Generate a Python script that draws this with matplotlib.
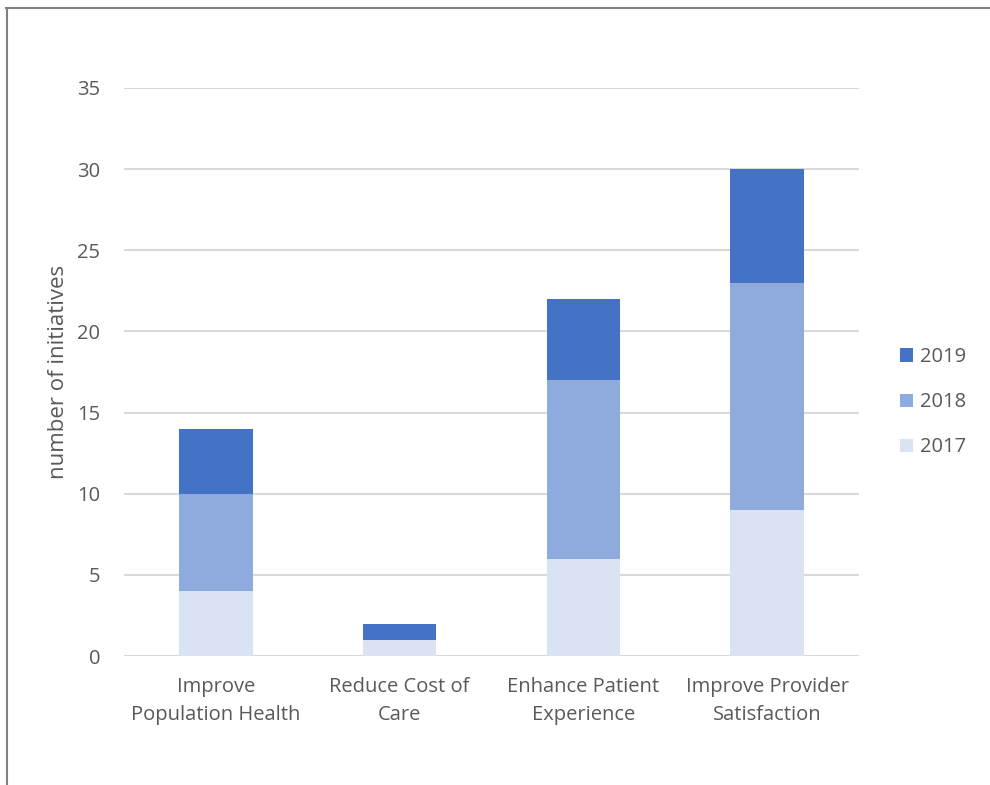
import matplotlib
matplotlib.use("Agg")
import matplotlib.pyplot as plt
from matplotlib.lines import Line2D
import numpy as np

categories = ["Improve\nPopulation Health", "Reduce Cost of\nCare",
              "Enhance Patient\nExperience", "Improve Provider\nSatisfaction"]
years = ["2017", "2018", "2019"]
v2017 = [4, 1, 6, 9]
v2018 = [6, 0, 11, 14]
v2019 = [4, 1, 5, 7]
y_ticks = [0, 5, 10, 15, 20, 25, 30, 35]

colors = {"2017": "#dae3f3", "2018": "#8faadc", "2019": "#4472c4"}
text_color = "#595959"
fs = 14.5

plt.rcParams["font.family"] = ["Open Sans", "DejaVu Sans"]

fig = plt.figure(figsize=(9.9, 7.85), dpi=100)
ax = fig.add_axes([0.1253, 0.1643, 0.7424, 0.7236])

x = np.arange(len(categories))
series = [("2017", v2017), ("2018", v2018), ("2019", v2019)]
bottom = np.zeros(len(categories))
handles = {}
for name, vals in series:
    vals = np.array(vals, dtype=float)
    handles[name] = ax.bar(x, vals, width=0.4, bottom=bottom,
                           color=colors[name], label=name, zorder=3)
    bottom += vals

ax.set_xlim(-0.5, len(categories) - 0.5)
ax.set_ylim(0, 35)
ax.set_yticks(y_ticks)
ax.set_yticklabels([str(t) for t in y_ticks])
ax.set_xticks(x)
ax.set_xticklabels(categories, linespacing=1.56)
ax.yaxis.grid(True, color="#d9d9d9", linewidth=1.5, zorder=0)
ax.set_axisbelow(True)
for s in ax.spines.values():
    s.set_visible(False)
ax.tick_params(axis="both", length=0, labelsize=fs, colors=text_color)
ax.tick_params(axis="y", pad=17)
ax.tick_params(axis="x", pad=15)
ax.set_ylabel("number of initiatives", fontsize=16, color=text_color, labelpad=6)

leg = fig.legend([handles[n] for n in ["2019", "2018", "2017"]],
                 ["2019", "2018", "2017"],
                 loc="center left", bbox_to_anchor=(0.891, 0.4875),
                 frameon=False, fontsize=fs, handlelength=0.65, handleheight=0.65,
                 handletextpad=0.35, labelspacing=1.25, labelcolor=text_color)

# frame edges along the top and left of the figure
fig.add_artist(Line2D([0.006, 1.0], [0.9898, 0.9898], transform=fig.transFigure,
                      color="#808080", linewidth=1.5))
fig.add_artist(Line2D([0.0066, 0.0066], [0.0, 0.9898], transform=fig.transFigure,
                      color="#808080", linewidth=1.5))

fig.savefig("out.png", dpi=100)
